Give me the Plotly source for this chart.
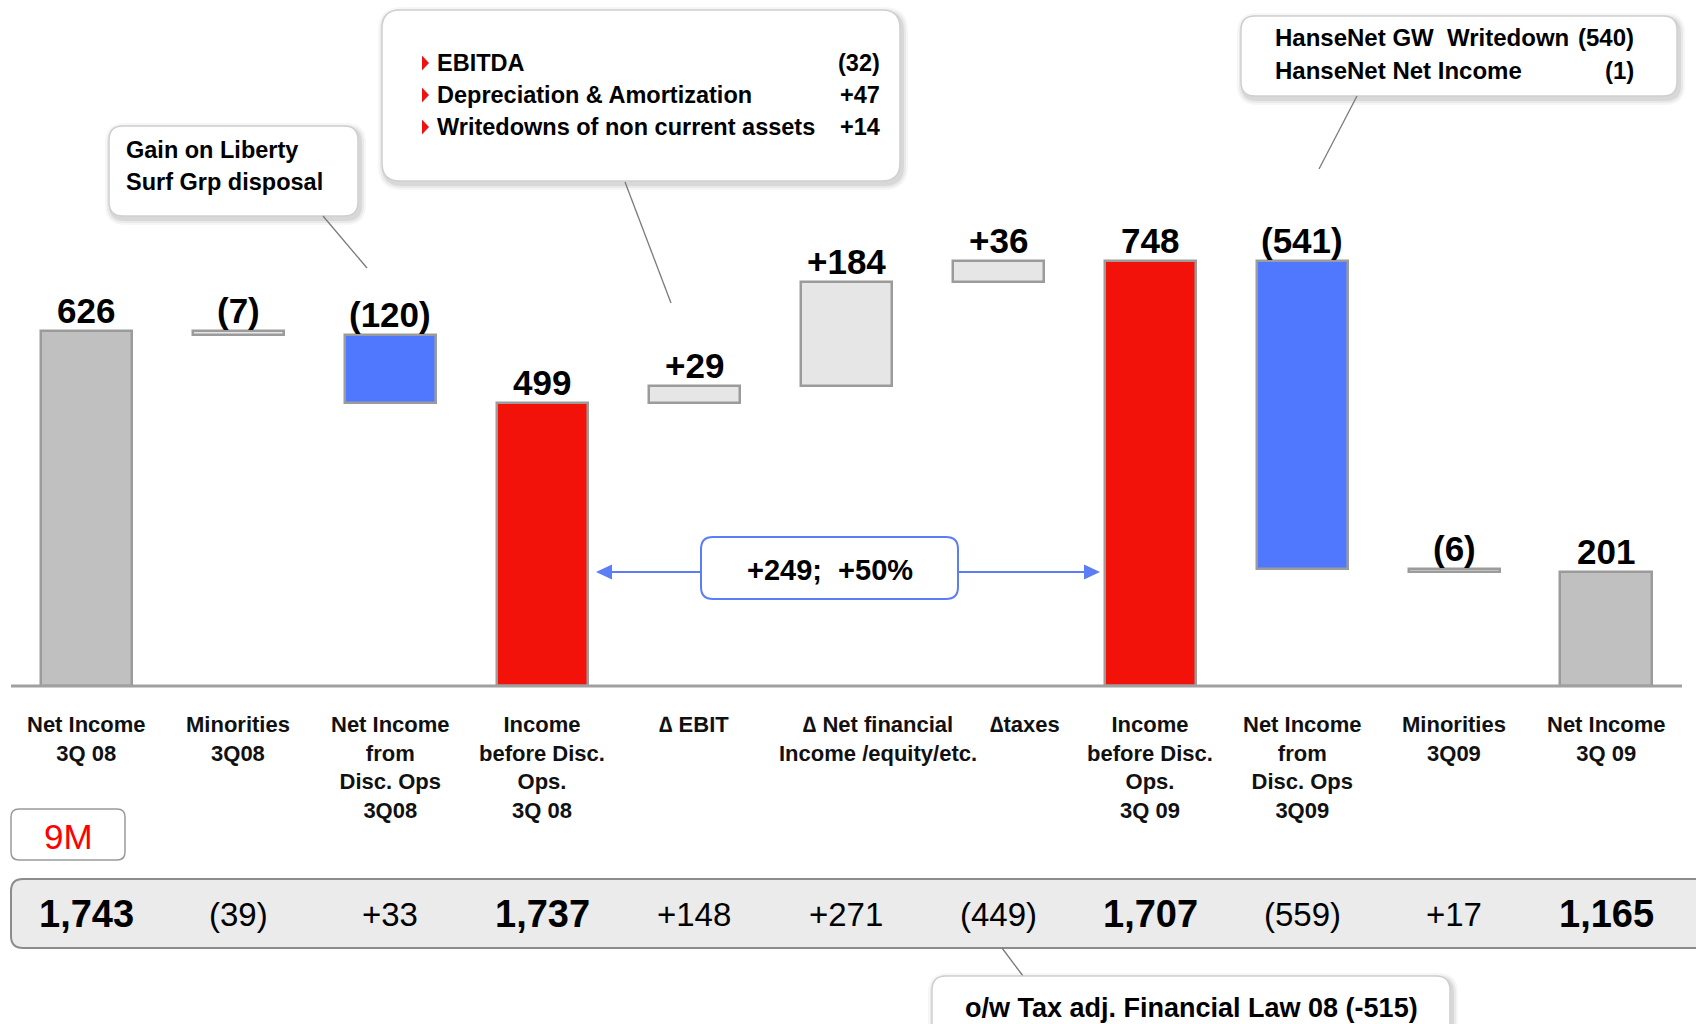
import plotly.graph_objects as go

W, H = 1696, 1024

# ---- data -------------------------------------------------------------
categories = [
    "Net Income<br>3Q 08",
    "Minorities<br>3Q08",
    "Net Income<br>from<br>Disc. Ops<br>3Q08",
    "Income<br>before Disc.<br>Ops.<br>3Q 08",
    "∆ EBIT",
    "∆ Net financial<br>Income /equity/etc.",
    "∆taxes",
    "Income<br>before Disc.<br>Ops.<br>3Q 09",
    "Net Income<br>from<br>Disc. Ops<br>3Q09",
    "Minorities<br>3Q09",
    "Net Income<br>3Q 09",
]
q3_values = [626, -7, -120, 499, 29, 184, 36, 748, -541, -6, 201]
is_total = [True, False, False, True, False, False, False, True, False, False, True]
nine_m_values = [1743, -39, 33, 1737, 148, 271, -449, 1707, -559, 17, 1165]

ebitda_items = ["EBITDA", "Depreciation & Amortization", "Writedowns of non current assets"]
ebitda_values = ["(32)", "+47", "+14"]
hansenet_items = ["HanseNet GW  Writedown", "HanseNet Net Income"]
hansenet_values = ["(540)", "(1)"]
liberty_lines = ["Gain on Liberty", "Surf Grp disposal"]
tax_note = "o/w Tax adj. Financial Law 08 (-515)"
growth_note = "+249;  +50%"

# ---- styling ----------------------------------------------------------
FONT = "Liberation Sans, Arial, sans-serif"
GREY_TOTAL = "#c0c0c0"
LIGHT = "#e6e6e6"
BLUE = "#5078ff"
RED = "#f2120a"
EDGE = "#9b9b9b"


def fmt_delta(v):
    return f"+{v}" if v > 0 else f"({-v})"


def fmt_total(v):
    return f"{v:,}"


# waterfall geometry
bases, heights, colors, labels, tops = [], [], [], [], []
running = 0
n = len(q3_values)
for i, (v, tot) in enumerate(zip(q3_values, is_total)):
    if tot:
        base = 0
        running = v
        col = GREY_TOTAL if i in (0, n - 1) else RED
        lab = fmt_total(v)
    else:
        base = running
        running += v
        col = BLUE if v < -50 else LIGHT
        lab = fmt_delta(v)
    bases.append(base)
    heights.append(v)
    colors.append(col)
    labels.append(lab)
    tops.append(max(base, base + v))

xs = list(range(n))

fig = go.Figure()
fig.add_trace(go.Bar(
    x=xs, y=heights, base=bases, width=0.6,
    marker=dict(color=colors, line=dict(color=EDGE, width=2.5)),
    hoverinfo="skip", showlegend=False,
))


def X(p):
    return p / W


def Y(p):
    return 1 - p / H


def rounded_path(x0, y0, x1, y1, r):
    return (
        f"M {X(x0 + r)},{Y(y0)} L {X(x1 - r)},{Y(y0)} "
        f"Q {X(x1)},{Y(y0)} {X(x1)},{Y(y0 + r)} "
        f"L {X(x1)},{Y(y1 - r)} Q {X(x1)},{Y(y1)} {X(x1 - r)},{Y(y1)} "
        f"L {X(x0 + r)},{Y(y1)} Q {X(x0)},{Y(y1)} {X(x0)},{Y(y1 - r)} "
        f"L {X(x0)},{Y(y0 + r)} Q {X(x0)},{Y(y0)} {X(x0 + r)},{Y(y0)} Z"
    )


shapes = []
annotations = []


def box(x0, y0, x1, y1, r, fill="white", line="#cfcfcf", lw=1.5, shadow=True):
    if shadow:
        for d, a in ((6, 0.035), (4, 0.05), (2, 0.07)):
            shapes.append(dict(type="path", xref="paper", yref="paper",
                               path=rounded_path(x0 - d + 2, y0 - d + 3, x1 + d + 2, y1 + d + 3, r + d),
                               fillcolor=f"rgba(0,0,0,{a})", line=dict(width=0), layer="above"))
    shapes.append(dict(type="path", xref="paper", yref="paper",
                       path=rounded_path(x0, y0, x1, y1, r),
                       fillcolor=fill, line=dict(color=line, width=lw), layer="above"))


def seg(x0, y0, x1, y1, color="#7a7a7a", w=1.3):
    shapes.append(dict(type="line", xref="paper", yref="paper",
                       x0=X(x0), y0=Y(y0), x1=X(x1), y1=Y(y1),
                       line=dict(color=color, width=w), layer="above"))


def tri(pts, color):
    p = "M " + " L ".join(f"{X(a)},{Y(b)}" for a, b in pts) + " Z"
    shapes.append(dict(type="path", xref="paper", yref="paper", path=p,
                       fillcolor=color, line=dict(width=0), layer="above"))


def text(px, py, s, size, anchor="center", color="black", bold=True):
    annotations.append(dict(
        xref="paper", yref="paper", x=X(px), y=Y(py), text=f"<b>{s}</b>" if bold else s,
        showarrow=False, xanchor=anchor, yanchor="middle",
        font=dict(family=FONT, size=size, color=color)))


# baseline
seg(11, 686, 1682, 686, color="#a0a0a0", w=3)

# value labels above bars
for i in xs:
    annotations.append(dict(
        x=i, y=tops[i], xref="x", yref="y", text=f"<b>{labels[i]}</b>",
        showarrow=False, yanchor="bottom", yshift=-1,
        font=dict(family=FONT, size=35, color="black")))

# category labels
label_shift = {5: 32, 6: 27}
for i, c in enumerate(categories):
    annotations.append(dict(
        x=i, y=0, xref="x", yref="y", text=f"<b>{c}</b>", showarrow=False,
        xanchor="center", yanchor="top", yshift=-24, xshift=label_shift.get(i, 0),
        align="center",
        font=dict(family=FONT, size=22, color="#111111")))

# Liberty Surf callout
box(109, 126, 358, 216, 14)
seg(323, 216, 367, 268)
for k, s in enumerate(liberty_lines):
    text(124, 150 + 32 * k, s, 23.5, anchor="left")

# EBIT breakdown callout
box(382, 10, 900, 181, 18)
seg(625, 182, 671, 303)
for k, (s, v) in enumerate(zip(ebitda_items, ebitda_values)):
    yy = 63 + 32 * k
    tri([(422, yy - 7.5), (429, yy), (422, yy + 7.5)], "#ee1111")
    text(435, yy, s, 23.5, anchor="left")
    text(882, yy, v, 23.5, anchor="right")

# HanseNet callout
box(1241, 16, 1677, 96, 14)
seg(1357, 96, 1319, 169)
for k, (s, v) in enumerate(zip(hansenet_items, hansenet_values)):
    yy = 37 + 33 * k
    text(1273, yy, s, 24, anchor="left")
    text(1636, yy, v, 24, anchor="right")

# growth arrow between the two pre-discontinued income bars
arrow_col = "#5b7df5"
seg(701, 572, 610, 572, color=arrow_col, w=2)
seg(958, 572, 1086, 572, color=arrow_col, w=2)
tri([(596, 572), (612, 564.5), (612, 579.5)], arrow_col)
tri([(1100, 572), (1084, 564.5), (1084, 579.5)], arrow_col)
box(701, 537, 958, 599, 12, line=arrow_col, lw=2, shadow=False)
text(829.5, 570, growth_note, 29)

# 9M tag
box(11, 809, 125, 860, 8, line="#9a9a9a", lw=1.5, shadow=False)
text(68, 836, "9M", 35, color="#ff0000", bold=False)

# 9M figures band
box(11, 879, 1730, 948, 12, fill="#ebebeb", line="#8c8c8c", lw=2, shadow=False)
for i, (v, tot) in enumerate(zip(nine_m_values, is_total)):
    px = 86.5 + 151.95 * i
    if tot:
        text(px, 914, fmt_total(v), 38)
    else:
        text(px, 914, fmt_delta(v), 33, bold=False)

# tax note callout
seg(1002, 948, 1023, 976)
box(932, 976, 1450, 1060, 14)
text(1191, 1008, tax_note, 27)

fig.update_layout(
    width=W, height=H,
    margin=dict(l=0, r=0, t=0, b=0),
    paper_bgcolor="white", plot_bgcolor="white",
    font=dict(family=FONT),
    xaxis=dict(range=[-0.569, 10.592], visible=False, fixedrange=True),
    yaxis=dict(range=[-595, 1208], visible=False, fixedrange=True),
    shapes=shapes, annotations=annotations,
    showlegend=False, bargap=0,
)

fig.write_html("out.html")
